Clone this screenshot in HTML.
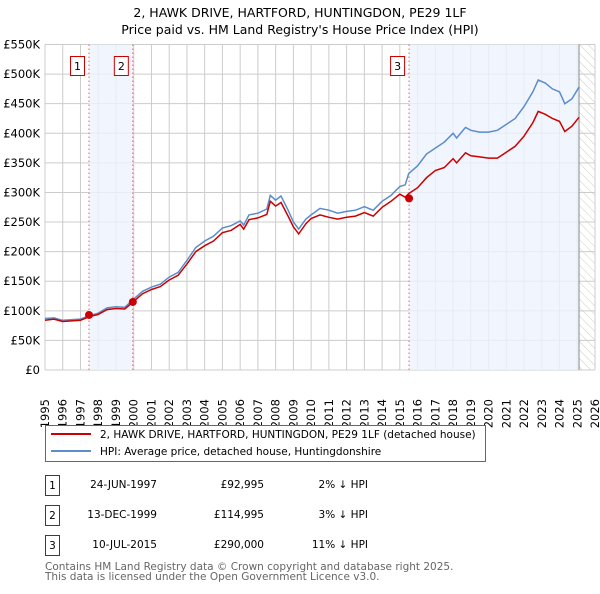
<!DOCTYPE html>
<html><head><meta charset="utf-8"><style>
body{margin:0;background:#fff;width:600px;height:590px;overflow:hidden;font-family:"DejaVu Sans","Liberation Sans",sans-serif}
svg text{font-family:"DejaVu Sans","Liberation Sans",sans-serif}
</style></head><body>
<svg id="chart" width="600" height="590" xmlns="http://www.w3.org/2000/svg">
<defs><pattern id="hatch" width="6" height="6" patternUnits="userSpaceOnUse" patternTransform="rotate(-45)"><line x1="0" y1="0" x2="0" y2="6" stroke="#ccc" stroke-width="1"/></pattern></defs>
<text x="300" y="17" text-anchor="middle" font-size="12.5">2, HAWK DRIVE, HARTFORD, HUNTINGDON, PE29 1LF</text>
<text x="300" y="34" text-anchor="middle" font-size="12.5">Price paid vs. HM Land Registry's House Price Index (HPI)</text>
<g id="grid"></g><g id="shade"></g><g id="series"></g><g id="axes"></g>
<g>
<rect x="45.5" y="425.5" width="440" height="36" fill="#fff" stroke="#666"/>
<line x1="51" y1="434" x2="91" y2="434" stroke="#cc0000" stroke-width="2"/>
<text x="100" y="438" font-size="10.5">2, HAWK DRIVE, HARTFORD, HUNTINGDON, PE29 1LF (detached house)</text>
<line x1="51" y1="451" x2="91" y2="451" stroke="#5b8ccc" stroke-width="2"/>
<text x="100" y="455" font-size="10.5">HPI: Average price, detached house, Huntingdonshire</text>
</g>
<g font-size="10.5">
<rect x="45.5" y="475.5" width="14" height="20" fill="none" stroke="#cc0000"/><text x="52.5" y="489" text-anchor="middle">1</text>
<text x="157" y="488" text-anchor="end">24-JUN-1997</text><text x="264" y="488" text-anchor="end">£92,995</text><text x="368" y="488" text-anchor="end">2% ↓ HPI</text>
<rect x="45.5" y="505.5" width="14" height="20" fill="none" stroke="#cc0000"/><text x="52.5" y="519" text-anchor="middle">2</text>
<text x="157" y="518" text-anchor="end">13-DEC-1999</text><text x="264" y="518" text-anchor="end">£114,995</text><text x="368" y="518" text-anchor="end">3% ↓ HPI</text>
<rect x="45.5" y="535.5" width="14" height="20" fill="none" stroke="#cc0000"/><text x="52.5" y="549" text-anchor="middle">3</text>
<text x="157" y="548" text-anchor="end">10-JUL-2015</text><text x="264" y="548" text-anchor="end">£290,000</text><text x="368" y="548" text-anchor="end">11% ↓ HPI</text>
</g>
<text x="45" y="570" font-size="10.5" fill="#666">Contains HM Land Registry data © Crown copyright and database right 2025.</text>
<text x="45" y="580" font-size="10.5" fill="#666">This data is licensed under the Open Government Licence v3.0.</text>
</svg>
<script>
const years=[1995,1996,1997,1998,1999,2000,2001,2002,2003,2004,2005,2006,2007,2008,2009,2010,2011,2012,2013,2014,2015,2016,2017,2018,2019,2020,2021,2022,2023,2024,2025,2026];
const yTicks=[0,50,100,150,200,250,300,350,400,450,500,550];
const hpiDates=[1995,1995.5,1996,1997,1997.5,1998,1998.5,1999,1999.5,2000,2000.5,2001,2001.5,2002,2002.5,2003,2003.5,2004,2004.5,2005,2005.5,2006,2006.2,2006.5,2007,2007.5,2007.7,2008,2008.3,2008.7,2009,2009.3,2009.7,2010,2010.5,2011,2011.5,2012,2012.5,2013,2013.5,2014,2014.5,2015,2015.3,2015.5,2016,2016.5,2017,2017.5,2018,2018.2,2018.7,2019,2019.5,2020,2020.5,2021,2021.5,2022,2022.5,2022.8,2023.2,2023.6,2024,2024.3,2024.7,2025.1];
const hpiValues=[87,88,84,86,92,96,105,107,106,120,133,140,145,157,165,185,207,218,226,240,244,252,245,262,265,272,295,287,294,270,250,238,255,262,273,270,265,268,270,276,270,285,295,310,313,332,345,365,375,385,400,392,410,405,402,402,405,415,425,445,470,490,485,475,470,450,458,478];
const priceValues=[84,86,82,84,90,94,102,104,103,116,129,136,141,152,160,179,200,210,218,232,236,246,238,254,257,263,285,277,283,260,242,230,247,256,262,258,255,258,260,266,260,275,285,297,292,298,308,325,337,342,357,350,367,362,360,358,358,368,378,395,418,437,432,425,420,403,412,427];
const saleDates=[1997.48,1999.95,2015.52];
const salePrices=[92.995,114.995,290];
const saleLabels=["1","2","3"];
const X=v=>45+(v-1995)*(550/31), Y=v=>370-v*(325.5/550);
const NS="http://www.w3.org/2000/svg";
function mk(p,t,a){const e=document.createElementNS(NS,t);for(const k in a)e.setAttribute(k,a[k]);document.getElementById(p).appendChild(e);return e;}
let s=mk('shade','rect',{x:X(saleDates[0]),y:Y(550),width:X(saleDates[1])-X(saleDates[0]),height:Y(0)-Y(550),fill:'#eef3fc',opacity:0.8});


s=mk('shade','rect',{x:X(saleDates[2]),y:Y(550),width:X(2025.1)-X(saleDates[2]),height:Y(0)-Y(550),fill:'#eef3fc',opacity:0.8});


s=mk('shade','rect',{x:X(2025.1),y:Y(550),width:X(2026)-X(2025.1),height:Y(0)-Y(550),fill:'url(#hatch)'});


s=mk('shade','line',{x1:X(2025.1),x2:X(2025.1),y1:Y(550),y2:Y(0),stroke:'#888','stroke-width':1});


years.forEach(y=>{const l=mk('grid','line',{x1:X(y),x2:X(y),y1:Y(550),y2:Y(0),stroke:'#ccc'});


const t=mk('axes','text',{x:0,y:0,'font-size':11.5,transform:`translate(${X(y)+4},399) rotate(-90)`,'text-anchor':'end'});t.textContent=y;

});
yTicks.forEach(v=>{const l=mk('grid','line',{x1:X(1995),x2:X(2026),y1:Y(v),y2:Y(v),stroke:'#ccc'});


const t=mk('axes','text',{x:40,y:Y(v)+4,'font-size':11.5,'text-anchor':'end'});t.textContent=v==0?'£0':'£'+v+'K';

});
saleDates.forEach((d,i)=>{const l=mk('series','line',{x1:X(d),x2:X(d),y1:Y(550),y2:Y(0),stroke:'#f06060','stroke-dasharray':'1.5,2.5'});


const r=mk('axes','rect',{x:X(d)-18.5,y:56.5,width:14,height:19,fill:'#fff',stroke:'#cc0000'});


const t=mk('axes','text',{x:X(d)-11.5,y:70,'font-size':11,'text-anchor':'middle'});t.textContent=saleLabels[i];

});
const path=(d,v)=>d.map((x,i)=>(i?'L':'M')+X(x).toFixed(1)+','+Y(v[i]).toFixed(1)).join('');
let p=mk('series','path',{d:path(hpiDates,hpiValues),fill:'none',stroke:'#5b8ccc','stroke-width':1.5});


p=mk('series','path',{d:path(hpiDates,priceValues),fill:'none',stroke:'#cc0000','stroke-width':1.5});


saleDates.forEach((d,i)=>{const c=mk('series','circle',{cx:X(d),cy:Y(salePrices[i]),r:4,fill:'#cc0000'});

});
</script>
</body></html>
